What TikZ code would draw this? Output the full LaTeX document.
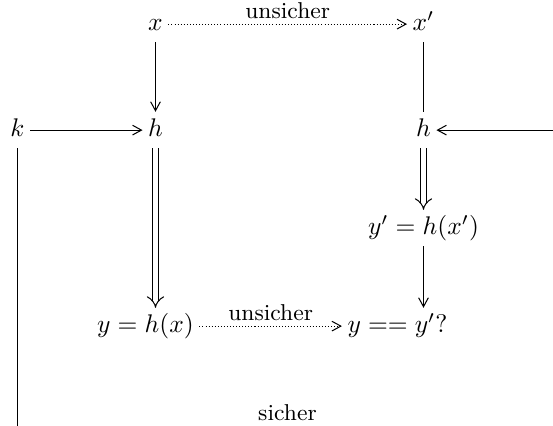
\documentclass[tikz,border=0pt]{standalone}
\usetikzlibrary{arrows.meta}
\begin{document}
\begin{tikzpicture}[x=0.392pt,y=-0.392pt,
  obj/.style={anchor=base, inner sep=2pt, text height=7.5pt, text depth=2.5pt},
  lbl/.style={font=\small, inner sep=2pt},
  sar/.style={-{Straight Barb[length=3.5pt,width=3.8pt]}},
  dar/.style={double, double distance=2pt, -{Implies}},
  dot/.style={dash pattern=on 0.4pt off 0.8pt},
]
\useasboundingbox (-0.5,-0.5) rectangle (552.5,425.5);
\node[obj] (x) at (155,30) {$x$};
\node[obj] (xp) at (423,30) {$x'$};
\node[obj] (k) at (17,136) {$k$};
\node[obj] (hl) at (155,136) {$h$};
\node[obj] (hr) at (423,136) {$h$};
\node[obj] (yp) at (423,234) {$y' = h(x')$};
\node[obj] (y) at (145,332) {$y = h(x)$};
\node[obj] (eq) at (397,332) {$y == y'?$};
\node[lbl] (sicher) at (287,412) {sicher};
\coordinate (rin) at (553,130);
\coordinate (kend) at (17,426);

\draw[sar, dot] (x) -- node[lbl, above] {unsicher} (xp);
\draw[sar] (x) -- (hl);
\draw[sar] (k) -- (hl);
\draw (xp) -- (hr);
\draw[sar] (hr.east -| rin) -- (hr.east);
\draw[dar] (hr) -- (yp);
\draw[sar] (yp.south -| hr) -- (eq.north -| hr);
\draw[dar] (hl) -- (hl |- y.north);
\draw[sar, dot] (y) -- node[lbl, above] {unsicher} (eq);
\draw (k) -- (k |- kend);
\end{tikzpicture}
\end{document}
